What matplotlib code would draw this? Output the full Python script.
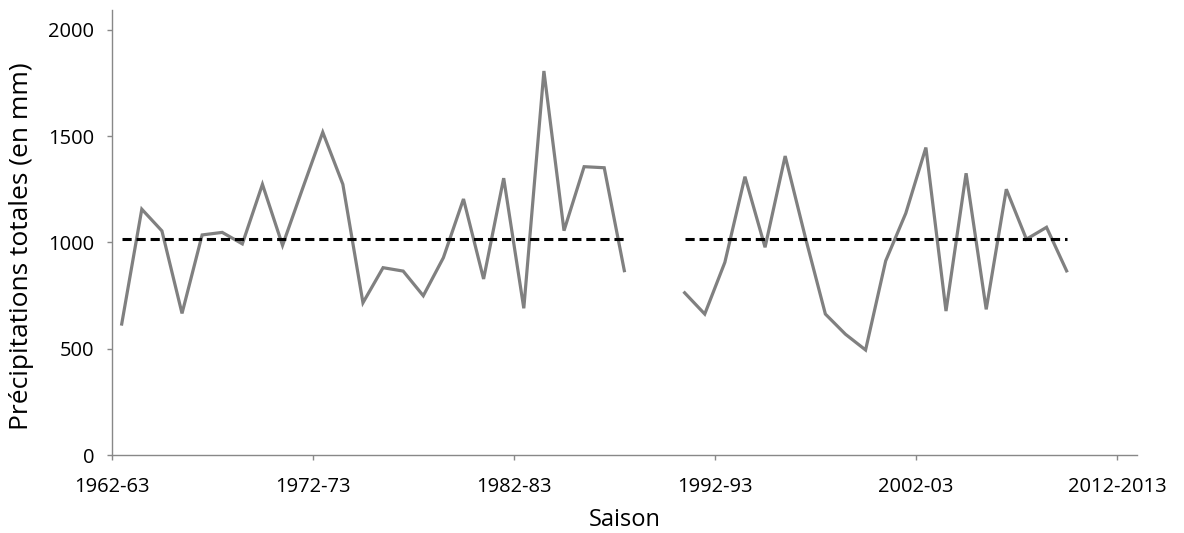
import numpy as np
import matplotlib
matplotlib.use("Agg")
import matplotlib.pyplot as plt

# seasons 1962-63 .. 2012-13, one category each
saisons = ["%d-%02d" % (y, (y + 1) % 100) for y in range(1962, 2013)]
tick_labels = ["1962-63", "1972-73", "1982-83", "1992-93", "2002-03", "2012-2013"]

nan = np.nan
precip = [616, 1156, 1054, 666, 1035, 1047, 993, 1273, 986, 1254,
          1518, 1273, 716, 881, 865, 749, 928, 1204, 828, 1302,
          690, 1806, 1055, 1356, 1351, 867, nan, nan, 763, 663,
          906, 1309, 977, 1406, 1025, 663, 568, 494, 913, 1137,
          1446, 677, 1325, 685, 1250, 1015, 1071, 866]
moyenne = 1015

plt.rcParams['font.family'] = ['Open Sans', 'DejaVu Sans']

precip = np.array(precip, dtype=float)
x = np.arange(len(precip)) + 0.5
mean_line = np.where(np.isnan(precip), np.nan, moyenne)

fig = plt.figure(figsize=(11.84, 5.33), dpi=100)
ax = fig.add_axes([0.0943, 0.1463, 0.866, 0.835])

ax.plot(x, precip, color="#808080", linewidth=2.3, solid_joinstyle="miter")
ax.plot(x, mean_line, color="black", linewidth=2.2, dashes=(3.0, 1.6))

ax.set_xlim(0, len(saisons))
ax.set_ylim(0, 2093)
ax.set_xticks([saisons.index(s) for s in tick_labels[:-1]] + [50])
ax.set_xticklabels(tick_labels, fontsize=14.5)
ax.set_yticks([0, 500, 1000, 1500, 2000])
ax.tick_params(axis="y", labelsize=14.5, colors="#888888", labelcolor="black",
               length=3.6, width=1, pad=9)
ax.tick_params(axis="x", colors="#888888", labelcolor="black",
               length=3.6, width=1, pad=12)

for s in ["top", "right"]:
    ax.spines[s].set_visible(False)
for s in ["left", "bottom"]:
    ax.spines[s].set_color("#888888")
    ax.spines[s].set_linewidth(1)

ax.set_xlabel("Saison", fontsize=17, labelpad=8)
ax.set_ylabel("Précipitations totales (en mm)", fontsize=19, labelpad=5)
ax.yaxis.set_label_coords(-0.076, 0.47)

fig.savefig("out.png", dpi=100)
